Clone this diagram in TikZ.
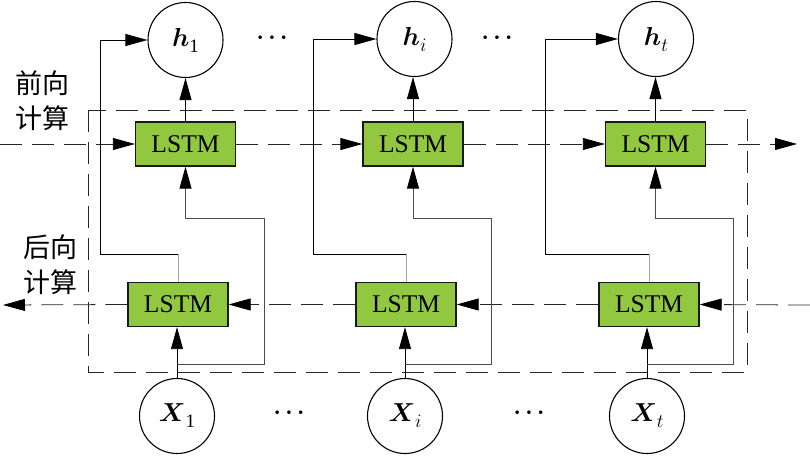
\RequirePackage{fix-cm}
\documentclass[tikz,border=0pt]{standalone}
\usepackage{fontspec}
\setmainfont{Liberation Serif}
\newfontfamily\cjk{Noto Sans CJK SC}
\usepackage{bm}
\usetikzlibrary{arrows.meta}
\definecolor{lstmgreen}{RGB}{146,200,64}
\newcommand{\mysub}[1]{\raisebox{-6pt}{\fontsize{19}{19}\selectfont #1}}
\begin{document}
\begin{tikzpicture}[x=1pt,y=-1pt,
  lstm/.style={draw=black!90, line width=1.3pt, fill=lstmgreen, minimum width=100pt, minimum height=44pt, inner sep=0pt, font=\fontsize{25.5}{25.5}\selectfont},
  unit/.style={circle, draw, line width=1.1pt, minimum size=75pt, inner sep=0pt, font=\fontsize{26}{26}\selectfont},
  conn/.style={line width=0.9pt, black},
  loop/.style={line width=0.9pt, black!70},
  stub/.style={line width=0.9pt, black!35},
  tip/.style={-{Triangle[length=22pt,width=12pt,black]}},
  dline/.style={line width=0.8pt, dash pattern=on 22pt off 10pt, black!85},
  dots/.style={font=\fontsize{23}{23}\selectfont},
  cjklabel/.style={align=center, font=\cjk\fontsize{27}{35}\selectfont, inner sep=0pt}]
\useasboundingbox (0,0) rectangle (810,455);

% dashed frame
\draw[dline] (88,110) rectangle (747,372);

% nodes
\node[unit] (h1) at (185.5,40) {$\bm{h}$\mysub{1}};
\node[unit] (hi) at (414.5,39) {$\bm{h}$\mysub{$i$}};
\node[unit] (ht) at (656,39) {$\bm{h}$\mysub{$t$}};

\node[lstm] (F1) at (185.5,144) {LSTM};
\node[lstm] (Fi) at (413,144) {LSTM};
\node[lstm] (Ft) at (655.5,144) {LSTM};

\node[lstm] (B1) at (178,304.5) {LSTM};
\node[lstm] (Bi) at (406,304.5) {LSTM};
\node[lstm] (Bt) at (649,304.5) {LSTM};

\node[unit] (X1) at (177,416) {$\bm{X}$\mysub{1}};
\node[unit] (Xi) at (405,416) {$\bm{X}$\mysub{$i$}};
\node[unit] (Xt) at (647,416) {$\bm{X}$\mysub{$t$}};

\node[dots] (d1) at (272,38) {$\bm{\cdots}$};
\node[dots] (d2) at (497,38) {$\bm{\cdots}$};
\node[dots] (d3) at (289,413) {$\bm{\cdots}$};
\node[dots] (d4) at (529,413) {$\bm{\cdots}$};

\node[cjklabel] (lf) at (43,101) {前向\\计算};
\node[cjklabel] (lb) at (50,265) {后向\\计算};

% forward dashed chain
\coordinate (fs) at (0,144);
\coordinate (fe) at (797,144);
\draw[dline,tip] (fs) -- (F1.west);
\draw[dline,tip] (F1.east) -- (Fi.west);
\draw[dline,tip] (Fi.east) -- (Ft.west);
\draw[dline,tip] (Ft.east) -- (fe);

% backward dashed chain
\coordinate (bs) at (810,305);
\coordinate (be) at (3,305);
\draw[dline,tip] (bs) -- (Bt.east);
\draw[dline,tip] (Bt.west) -- (Bi.east);
\draw[dline,tip] (Bi.west) -- (B1.east);
\draw[dline,tip] (B1.west) -- (be);

% per-column connectors
\foreach \c/\xl/\xr in {1/100/264, i/313/491, t/545/733}{
  \draw[conn,tip] (F\c.north) -- (F\c.north |- h\c.south);
  \draw[conn,tip] (X\c.north) -- (X\c.north |- B\c.south);
  \draw[stub] (B\c.north) -- (B\c.north |- 0,254);
  \draw[conn,tip] (B\c.north |- 0,254) -- (\xl,254) |- (h\c.west);
  \draw[loop,tip] (X\c.north |- 0,364) -- (\xr,364) -- (\xr,218) -- (F\c.south |- 0,218) -- (F\c.south);
}
\end{tikzpicture}
\end{document}
